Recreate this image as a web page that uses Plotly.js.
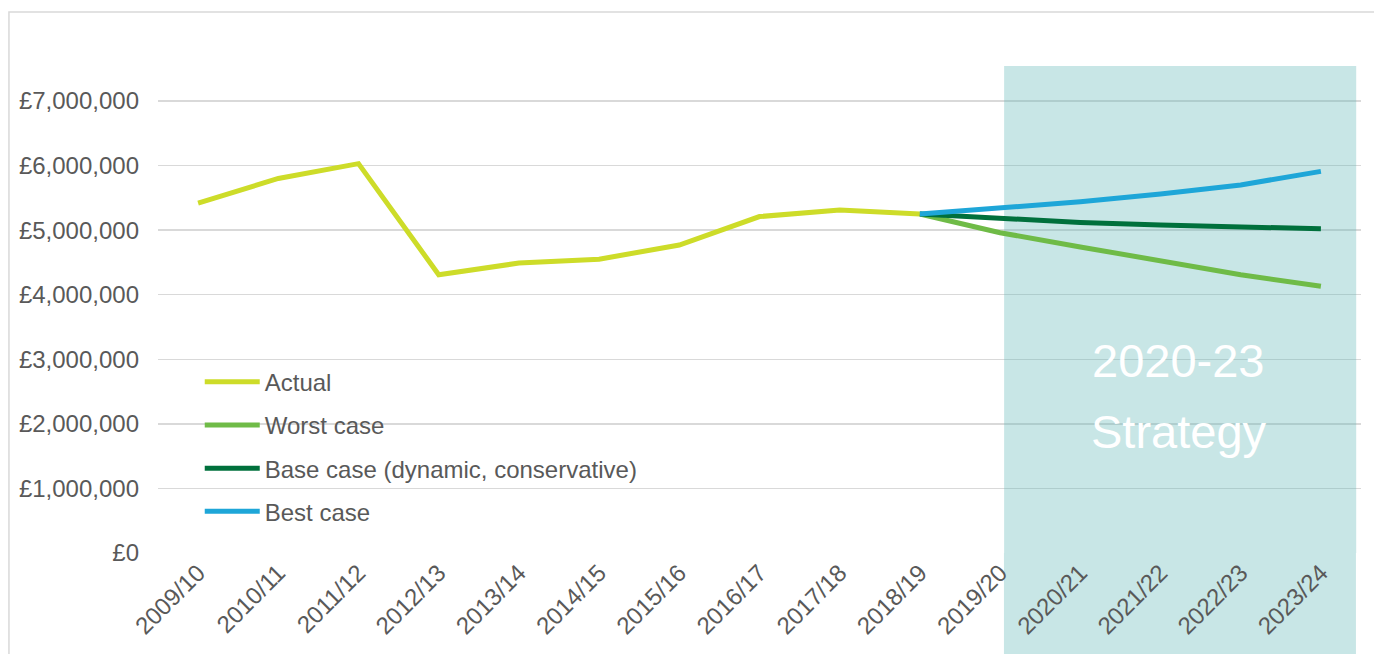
<!DOCTYPE html>
<html>
<head>
<meta charset="utf-8">
<script src="https://cdn.plot.ly/plotly-3.0.1.min.js"></script>
<style>
  html, body { margin: 0; padding: 0; background: #ffffff; }
  #chart { width: 1374px; height: 654px; }
</style>
</head>
<body>
<div id="chart"></div>
<script>
const years = ["2009/10","2010/11","2011/12","2012/13","2013/14","2014/15","2015/16","2016/17","2017/18","2018/19","2019/20","2020/21","2021/22","2022/23","2023/24"];

const actualYears = years.slice(0, 10);
const actualValues = [5420000, 5800000, 6030000, 4310000, 4490000, 4550000, 4770000, 5210000, 5310000, 5250000];

const forecastYears = years.slice(9);
const worstValues = [5250000, 4960000, 4740000, 4520000, 4310000, 4130000];
const baseValues  = [5250000, 5180000, 5120000, 5080000, 5050000, 5020000];
const bestValues  = [5250000, 5340000, 5440000, 5560000, 5700000, 5910000];

const yTickVals = [0, 1000000, 2000000, 3000000, 4000000, 5000000, 6000000, 7000000];
const yTickText = ["£0","£1,000,000","£2,000,000","£3,000,000","£4,000,000","£5,000,000","£6,000,000","£7,000,000"];

const seriesNames = ["Actual", "Worst case", "Base case (dynamic, conservative)", "Best case"];
const seriesColors = ["#cddc29", "#6fbb47", "#00703c", "#1ea6d8"];

const strategyLines = ["2020-23", "Strategy"];

const font = "Arial, 'Liberation Sans', Helvetica, sans-serif";
const txt = "#595959";

const xs = [actualYears, forecastYears, forecastYears, forecastYears];
const ys = [actualValues, worstValues, baseValues, bestValues];

const traces = seriesNames.map((n, i) => ({
  type: "scatter",
  mode: "lines",
  name: n,
  x: xs[i],
  y: ys[i],
  legendgroup: "g" + i,
  line: { color: seriesColors[i], width: 5 },
  hoverinfo: "skip"
}));

const layout = {
  width: 1374,
  height: 654,
  margin: { l: 158, r: 13, t: 66, b: 101, pad: 0 },
  paper_bgcolor: "#ffffff",
  plot_bgcolor: "rgba(0,0,0,0)",
  font: { family: font, size: 24, color: txt },
  showlegend: true,
  legend: {
    x: 0.0347, y: 0.397, xanchor: "left", yanchor: "top",
    bgcolor: "rgba(0,0,0,0)",
    traceorder: "grouped",
    tracegroupgap: 9,
    itemwidth: 55,
    font: { family: font, size: 24, color: txt }
  },
  xaxis: {
    type: "category",
    categoryorder: "array",
    categoryarray: years,
    range: [-0.5, 14.5],
    showgrid: false,
    zeroline: false,
    showline: false,
    ticks: "",
    tickangle: -45,
    tickfont: { family: font, size: 24, color: txt }
  },
  yaxis: {
    range: [0, 7542000],
    tickvals: yTickVals,
    ticktext: yTickText,
    showgrid: true,
    gridcolor: "#d9d9d9",
    gridwidth: 1.5,
    zeroline: false,
    showline: false,
    ticks: "",
    ticklabelstandoff: 18,
    tickfont: { family: font, size: 24, color: txt }
  },
  shapes: [
    { type: "rect", xref: "x", yref: "y", layer: "between",
      x0: 10.05, x1: 14.44, y0: 0, y1: 9000000,
      fillcolor: "rgba(98,184,184,0.35)", line: { width: 0 } },
    { type: "rect", xref: "paper", yref: "paper", layer: "below",
      x0: 0.7032, x1: 0.9958, y0: -0.25, y1: 0,
      fillcolor: "rgba(98,184,184,0.35)", line: { width: 0 } },
    { type: "rect", xref: "paper", yref: "paper", layer: "below",
      x0: -0.1239, x1: 1.05, y0: -0.3, y1: 1.1109,
      fillcolor: "rgba(0,0,0,0)", line: { color: "#d9d9d9", width: 1.5 } }
  ],
  annotations: [
    { xref: "paper", yref: "paper", x: 0.8487, y: 0.3963, xanchor: "center", yanchor: "middle",
      text: strategyLines[0], showarrow: false, font: { family: font, size: 47, color: "#ffffff" } },
    { xref: "paper", yref: "paper", x: 0.8487, y: 0.2505, xanchor: "center", yanchor: "middle",
      text: strategyLines[1], showarrow: false, font: { family: font, size: 47, color: "#ffffff" } }
  ]
};

Plotly.newPlot("chart", traces, layout, { displayModeBar: false, staticPlot: true });
</script>
</body>
</html>
